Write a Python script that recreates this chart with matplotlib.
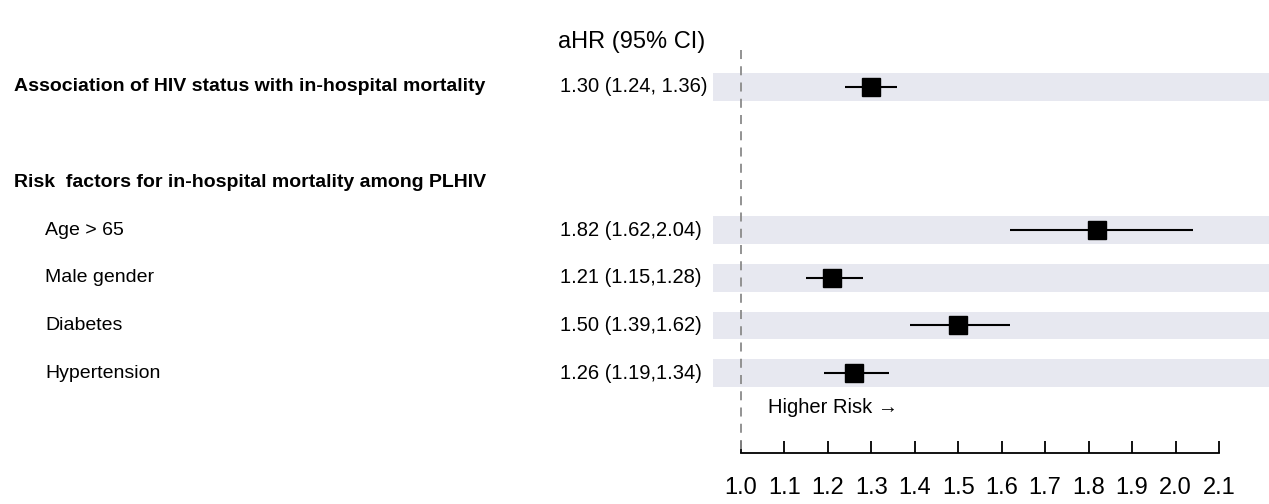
import matplotlib
matplotlib.use("Agg")
import matplotlib.pyplot as plt
import matplotlib.transforms as mtransforms

plt.rcParams["font.family"] = ["Liberation Sans", "DejaVu Sans"]

# ─────────────────────────────────────────────
# DATA
# ─────────────────────────────────────────────
row_labels = ["Association of HIV status with in-hospital mortality",
              "",
              "Risk  factors for in-hospital mortality among PLHIV",
              "Age > 65",
              "Male gender",
              "Diabetes",
              "Hypertension"]
row_bold = [True, False, True, False, False, False, False]
row_indent = [False, False, False, True, True, True, True]

# rows that carry an estimate (index into row_labels)
est_rows = [0, 3, 4, 5, 6]
hr = [1.30, 1.82, 1.21, 1.50, 1.26]
ci_low = [1.24, 1.62, 1.15, 1.39, 1.19]
ci_high = [1.36, 2.04, 1.28, 1.62, 1.34]
hr_text = ["1.30 (1.24, 1.36)", "1.82 (1.62,2.04)", "1.21 (1.15,1.28)",
           "1.50 (1.39,1.62)", "1.26 (1.19,1.34)"]

x_ticks = [1.0, 1.1, 1.2, 1.3, 1.4, 1.5, 1.6, 1.7, 1.8, 1.9, 2.0, 2.1]
x_ref = 1.0

# ─────────────────────────────────────────────
# LAYOUT (pixel based, 1269 x 504)
# ─────────────────────────────────────────────
W, H = 1269, 504
ROW0_PX, ROW_STEP = 87, 47.7
AX_LEFT_PX = 713
PX_PER_UNIT = 434.5   # pixels per 1.0 of HR

fig = plt.figure(figsize=(W / 100, H / 100), dpi=100)
fig.patch.set_facecolor("white")
ax = fig.add_axes([AX_LEFT_PX / W, 0, 1 - AX_LEFT_PX / W, 1])

x_min = x_ref - (741 - AX_LEFT_PX) / PX_PER_UNIT
x_max = x_ref + (W - 741) / PX_PER_UNIT
ax.set_xlim(x_min, x_max)
ax.set_ylim((H - ROW0_PX) / ROW_STEP, -ROW0_PX / ROW_STEP)
ax.set_facecolor("none")

# shaded bands behind estimate rows
ax.barh(est_rows, x_max - x_min, left=x_min, height=0.58,
        color="#e7e8f0", zorder=1)

# reference line
axis_row = (453 - ROW0_PX) / ROW_STEP
ax.plot([x_ref, x_ref], [(50 - ROW0_PX) / ROW_STEP, axis_row],
        color="#8a8a8a", linewidth=1.3, dashes=(5, 4), zorder=2)

# estimates
ax.errorbar(hr, est_rows, xerr=[[h - l for h, l in zip(hr, ci_low)],
                                [u - h for h, u in zip(hr, ci_high)]],
            fmt="s", color="black", markersize=13, elinewidth=1.5,
            capsize=0, zorder=4)

# x axis
for s in ["top", "right", "left"]:
    ax.spines[s].set_visible(False)
ax.spines["bottom"].set_position(("data", axis_row))
ax.spines["bottom"].set_bounds(x_ticks[0], x_ticks[-1])
ax.spines["bottom"].set_linewidth(1.3)
ax.set_xticks(x_ticks)
ax.set_xticklabels([f"{t:.1f}" for t in x_ticks])
ax.tick_params(axis="x", direction="in", length=9, width=1.3,
               labelsize=17, pad=17, colors="black")
ax.set_yticks([])

ax.text(x_ref + 27 / PX_PER_UNIT, (408 - ROW0_PX) / ROW_STEP,
        "Higher Risk \u2192", ha="left", va="center", fontsize=14.5)

# left-hand text columns
trans = mtransforms.blended_transform_factory(fig.transFigure, ax.transData)
for i, (lab, bold, ind) in enumerate(zip(row_labels, row_bold, row_indent)):
    if not lab:
        continue
    ax.text((45 if ind else 14) / W, i, lab, transform=trans,
            ha="left", va="center", fontsize=14,
            fontweight="bold" if bold else "normal")

for r, t in zip(est_rows, hr_text):
    ax.text(560 / W, r, t, transform=trans, ha="left", va="center",
            fontsize=14.5)

ax.text(558 / W, (42 - ROW0_PX) / ROW_STEP, "aHR (95% CI)",
        transform=trans, ha="left", va="center", fontsize=17)

fig.savefig("out.png", dpi=100, facecolor="white")
